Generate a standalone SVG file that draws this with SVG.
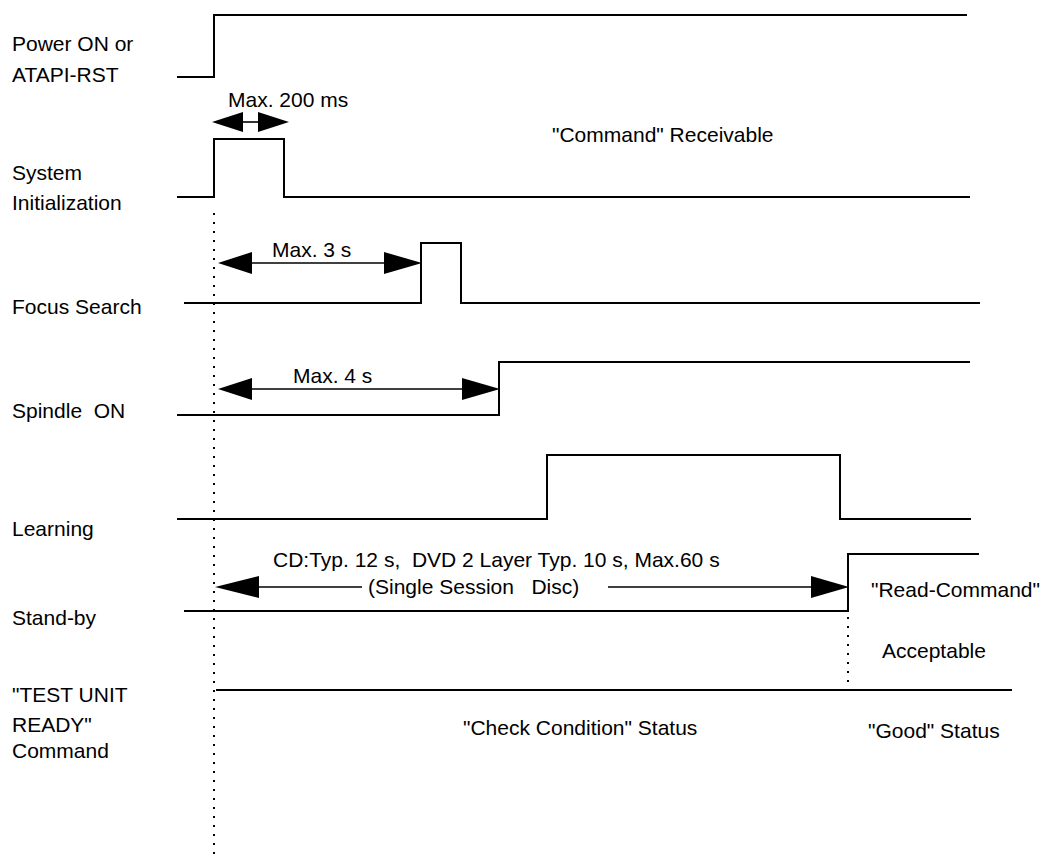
<svg xmlns="http://www.w3.org/2000/svg" width="1041" height="860" viewBox="0 0 1041 860">
  <style>
    .sig { fill: none; stroke: #000; stroke-width: 2; }
    .dim { fill: none; stroke: #000; stroke-width: 1.6; }
    .dot { fill: none; stroke: #000; stroke-width: 2; stroke-dasharray: 2 7; }
    .head { fill: #000; }
    text { font-family: "Liberation Sans", Arial, sans-serif; font-size: 21px; fill: #000; white-space: pre; }
  </style>
  <rect width="1041" height="860" fill="#fff"/>

  <!-- signal names -->
  <g id="labels">
    <text x="12" y="51">Power ON or</text>
    <text x="12" y="82">ATAPI-RST</text>
    <text x="12" y="180">System</text>
    <text x="12" y="210">Initialization</text>
    <text x="12" y="314">Focus Search</text>
    <text x="12" y="418">Spindle  ON</text>
    <text x="12" y="536">Learning</text>
    <text x="12" y="625">Stand-by</text>
    <text x="12" y="702">"TEST UNIT</text>
    <text x="12" y="732">READY"</text>
    <text x="12" y="758">Command</text>
  </g>

  <!-- waveforms -->
  <g id="power"><polyline class="sig" points="177,77 214,77 214,15 967,15"/></g>
  <g id="sysinit"><polyline class="sig" points="177,197 214,197 214,139 284,139 284,197 970,197"/></g>
  <g id="focus"><polyline class="sig" points="184,303 421,303 421,243 461,243 461,303 980,303"/></g>
  <g id="spindle"><polyline class="sig" points="177,415 499,415 499,362 970,362"/></g>
  <g id="learning"><polyline class="sig" points="177,519 547,519 547,455 840,455 840,519 971,519"/></g>
  <g id="standby"><polyline class="sig" points="184,611 848,611 848,554 979,554"/></g>
  <g id="tur"><line class="sig" x1="216" y1="690" x2="1012" y2="690"/></g>

  <!-- reference markers and timing dimensions -->
  <g id="connectors">
    <line class="dot" x1="214" y1="213" x2="214" y2="858"/>
    <line class="dot" x1="848" y1="617" x2="848" y2="698"/>

    <!-- Max. 200 ms -->
    <line class="dim" x1="240" y1="122" x2="260" y2="122"/>
    <polygon class="head" points="212,122 243,112 243,132"/>
    <polygon class="head" points="289,122 258,112 258,132"/>

    <!-- Max. 3 s -->
    <line class="dim" x1="250" y1="263" x2="386" y2="263"/>
    <polygon class="head" points="218,263 252,252 252,274"/>
    <polygon class="head" points="422,263 384,252 384,274"/>

    <!-- Max. 4 s -->
    <line class="dim" x1="250" y1="389" x2="464" y2="389"/>
    <polygon class="head" points="218,389 252,378 252,400"/>
    <polygon class="head" points="500,389 462,378 462,400"/>

    <!-- stand-by time -->
    <line class="dim" x1="250" y1="587" x2="362" y2="587"/>
    <line class="dim" x1="608" y1="587" x2="815" y2="587"/>
    <polygon class="head" points="215,587 259,576 259,598"/>
    <polygon class="head" points="849,587 811,576 811,598"/>
  </g>

  <!-- annotations -->
  <g id="notes">
    <text x="228" y="107">Max. 200 ms</text>
    <text x="552" y="142">"Command" Receivable</text>
    <text x="272" y="257">Max. 3 s</text>
    <text x="293" y="383">Max. 4 s</text>
    <text x="273" y="567">CD:Typ. 12 s,  DVD 2 Layer Typ. 10 s, Max.60 s</text>
    <text x="368" y="594">(Single Session   Disc)</text>
    <text x="871" y="597">"Read-Command"</text>
    <text x="882" y="658">Acceptable</text>
    <text x="463" y="735">"Check Condition" Status</text>
    <text x="868" y="738">"Good" Status</text>
  </g>
</svg>
